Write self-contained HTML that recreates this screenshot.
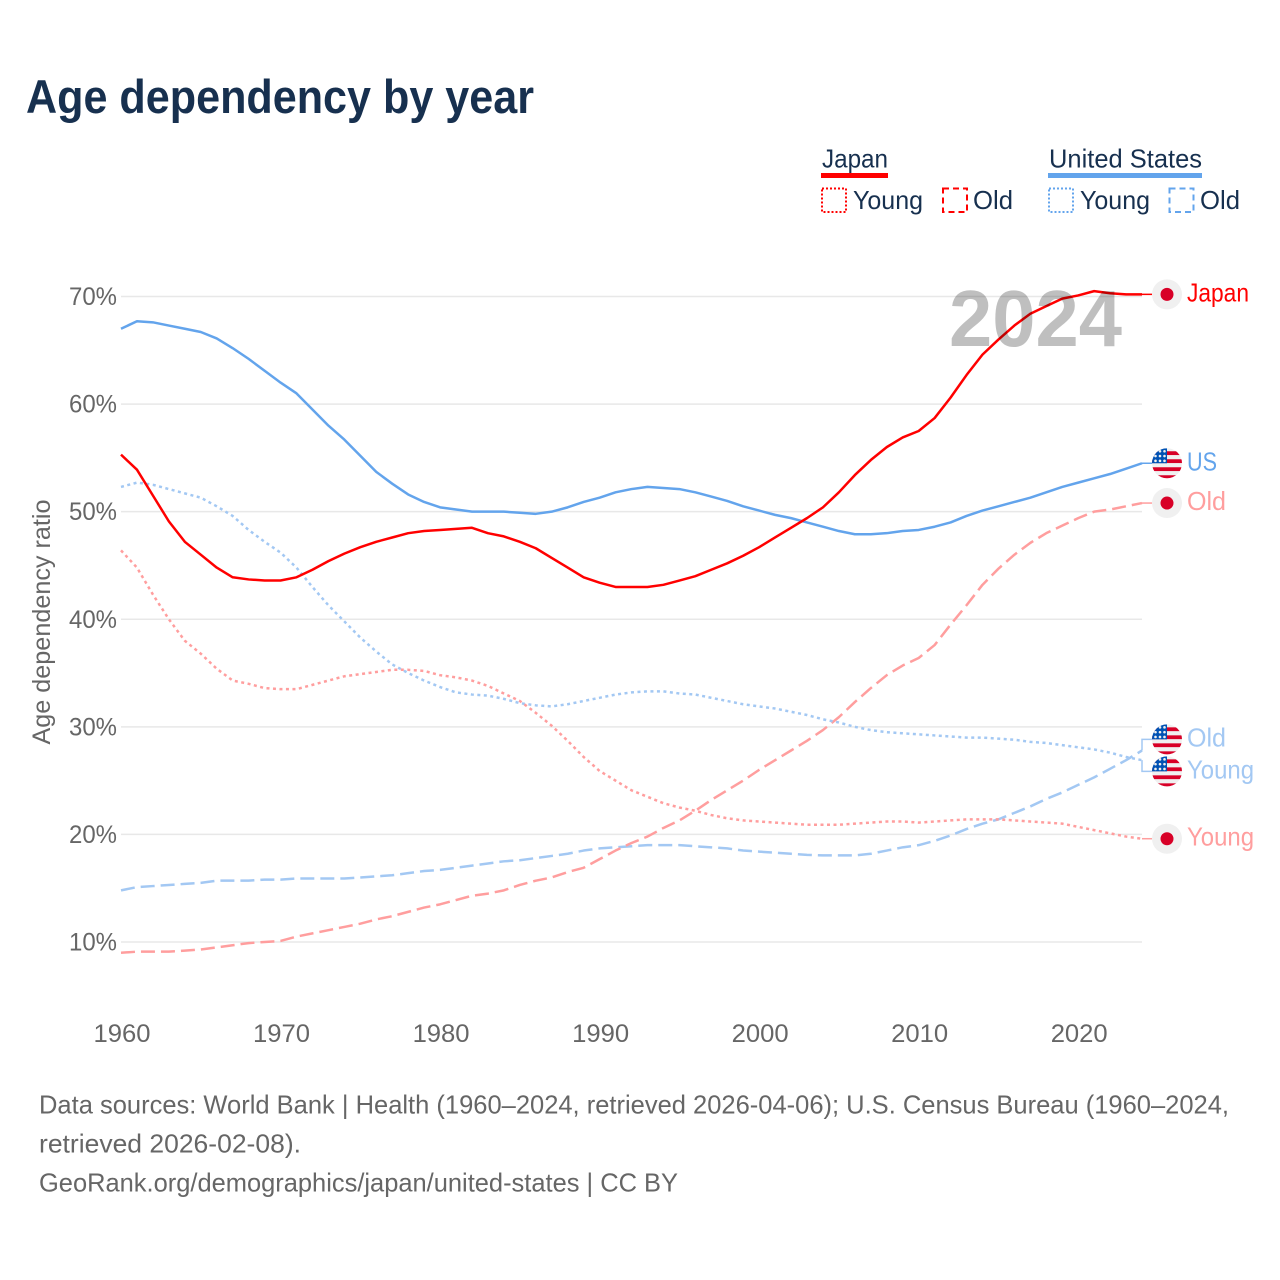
<!DOCTYPE html>
<html lang="en">
<head>
<meta charset="utf-8">
<title>Age dependency by year</title>
<style>
html,body{margin:0;padding:0;background:#fff;width:1280px;height:1280px;overflow:hidden}
svg{display:block;font-family:"Liberation Sans",sans-serif}
</style>
</head>
<body>
<svg xmlns="http://www.w3.org/2000/svg" width="1280" height="1280" viewBox="0 0 1280 1280">
  <text x="26" y="113" font-size="47" font-weight="700" fill="#17304f" textLength="508" lengthAdjust="spacingAndGlyphs">Age dependency by year</text>

  <g font-size="26" fill="#17304f">
    <text x="822" y="167.500" textLength="66" lengthAdjust="spacingAndGlyphs">Japan</text>
    <rect x="821" y="173" width="67" height="5" fill="#ff0000"/>
    <rect x="822" y="188.500" width="24" height="23.500" fill="none" stroke="#ff0000" stroke-width="2" stroke-dasharray="2 2"/>
    <text x="853" y="209" textLength="70" lengthAdjust="spacingAndGlyphs">Young</text>
    <rect x="943" y="188.500" width="24" height="23.500" fill="none" stroke="#ff0000" stroke-width="2" stroke-dasharray="6 4"/>
    <text x="973" y="209" textLength="40" lengthAdjust="spacingAndGlyphs">Old</text>

    <text x="1049" y="167.500" textLength="153" lengthAdjust="spacingAndGlyphs">United States</text>
    <rect x="1048" y="173" width="154" height="5" fill="#63a4ec"/>
    <rect x="1049" y="188.500" width="24" height="23.500" fill="none" stroke="#63a4ec" stroke-width="2" stroke-dasharray="2 2"/>
    <text x="1080" y="209" textLength="70" lengthAdjust="spacingAndGlyphs">Young</text>
    <rect x="1169.500" y="188.500" width="24" height="23.500" fill="none" stroke="#63a4ec" stroke-width="2" stroke-dasharray="6 4"/>
    <text x="1200" y="209" textLength="40" lengthAdjust="spacingAndGlyphs">Old</text>
  </g>

  <g id="grid"></g>
  <g id="yticks"></g>
  <g id="xticks"></g>
  <text transform="translate(50,622) rotate(-90)" text-anchor="middle" font-size="25" fill="#666666" textLength="245" lengthAdjust="spacingAndGlyphs">Age dependency ratio</text>

  <g id="series"></g>
  <g id="ends"></g>
  <text id="year" x="949" y="346" font-size="80" font-weight="700" fill="rgba(0,0,0,0.25)" textLength="173" lengthAdjust="spacingAndGlyphs"></text>

  <g font-size="26" fill="#666666">
    <text x="39" y="1113.500" textLength="1190" lengthAdjust="spacingAndGlyphs">Data sources: World Bank | Health (1960–2024, retrieved 2026-04-06); U.S. Census Bureau (1960–2024,</text>
    <text x="39" y="1152.500" textLength="262" lengthAdjust="spacingAndGlyphs">retrieved 2026-02-08).</text>
    <text x="39" y="1191.500" textLength="639" lengthAdjust="spacingAndGlyphs">GeoRank.org/demographics/japan/united-states | CC BY</text>
  </g>
</svg>

<script>
const years = [1960,1961,1962,1963,1964,1965,1966,1967,1968,1969,1970,1971,1972,1973,1974,1975,1976,1977,1978,1979,1980,1981,1982,1983,1984,1985,1986,1987,1988,1989,1990,1991,1992,1993,1994,1995,1996,1997,1998,1999,2000,2001,2002,2003,2004,2005,2006,2007,2008,2009,2010,2011,2012,2013,2014,2015,2016,2017,2018,2019,2020,2021,2022,2023,2024];
const japanTotal = [55.3,53.9,51.5,49.1,47.2,46.0,44.8,43.9,43.7,43.6,43.6,43.9,44.6,45.4,46.1,46.7,47.2,47.6,48.0,48.2,48.3,48.4,48.5,48.0,47.7,47.2,46.6,45.7,44.8,43.9,43.4,43.0,43.0,43.0,43.2,43.6,44.0,44.6,45.2,45.9,46.7,47.6,48.5,49.4,50.4,51.8,53.4,54.8,56.0,56.9,57.5,58.7,60.6,62.7,64.6,66.0,67.3,68.4,69.1,69.8,70.1,70.5,70.3,70.2,70.2];
const usTotal = [67.0,67.7,67.6,67.3,67.0,66.7,66.1,65.2,64.2,63.1,62.0,61.0,59.5,58.0,56.7,55.2,53.7,52.6,51.6,50.9,50.4,50.2,50.0,50.0,50.0,49.9,49.8,50.0,50.4,50.9,51.3,51.8,52.1,52.3,52.2,52.1,51.8,51.4,51.0,50.5,50.1,49.7,49.4,49.0,48.6,48.2,47.9,47.9,48.0,48.2,48.3,48.6,49.0,49.6,50.1,50.5,50.9,51.3,51.8,52.3,52.7,53.1,53.5,54.0,54.5];
const japanYoung = [46.4,44.8,42.3,40.0,38.0,36.8,35.4,34.3,34.0,33.6,33.5,33.5,33.9,34.3,34.7,34.9,35.1,35.3,35.3,35.2,34.8,34.6,34.3,33.8,33.1,32.4,31.3,30.1,28.7,27.2,25.9,25.0,24.1,23.5,22.9,22.5,22.2,21.8,21.5,21.3,21.2,21.1,21.0,20.9,20.9,20.9,21.0,21.1,21.2,21.2,21.1,21.2,21.3,21.4,21.4,21.4,21.3,21.2,21.1,21.0,20.7,20.4,20.1,19.8,19.6];
const japanOld = [9.0,9.1,9.1,9.1,9.2,9.3,9.5,9.7,9.9,10.0,10.1,10.5,10.8,11.1,11.4,11.7,12.1,12.4,12.8,13.2,13.5,13.9,14.3,14.5,14.8,15.3,15.7,16.0,16.5,16.9,17.7,18.5,19.2,19.8,20.6,21.3,22.2,23.2,24.1,25.0,26.0,26.9,27.8,28.7,29.7,30.9,32.3,33.6,34.8,35.7,36.4,37.6,39.5,41.3,43.2,44.7,46.0,47.1,48.0,48.7,49.4,50.0,50.2,50.5,50.8];
const usYoung = [52.3,52.7,52.5,52.1,51.7,51.3,50.5,49.6,48.3,47.2,46.2,44.8,43.0,41.3,39.8,38.3,37.0,35.8,35.0,34.3,33.7,33.2,33.0,32.9,32.6,32.2,32.0,31.9,32.1,32.4,32.7,33.0,33.2,33.3,33.3,33.1,33.0,32.7,32.4,32.1,31.9,31.7,31.4,31.1,30.7,30.4,30.0,29.7,29.5,29.4,29.3,29.2,29.1,29.0,29.0,28.9,28.8,28.6,28.5,28.3,28.1,27.9,27.6,27.2,26.9];
const usOld = [14.8,15.1,15.2,15.3,15.4,15.5,15.7,15.7,15.7,15.8,15.8,15.9,15.9,15.9,15.9,16.0,16.1,16.2,16.4,16.6,16.7,16.9,17.1,17.3,17.5,17.6,17.8,18.0,18.2,18.5,18.7,18.8,18.9,19.0,19.0,19.0,18.9,18.8,18.7,18.5,18.4,18.3,18.2,18.1,18.05,18.05,18.05,18.2,18.5,18.8,19.0,19.4,19.9,20.5,21.0,21.4,22.0,22.6,23.3,23.9,24.6,25.3,26.1,26.9,27.8];
const yTickValues = [10,20,30,40,50,60,70];
const xTickValues = [1960,1970,1980,1990,2000,2010,2020];

const SVGNS = 'http://www.w3.org/2000/svg';
const X0 = 121, X1 = 1142, YEAR0 = 1960, YEAR1 = 2024;
const Y10 = 942, Y70 = 296.5;
function xScale(year){ return X0 + (year - YEAR0) * (X1 - X0) / (YEAR1 - YEAR0); }
function yScale(v){ return Y10 + (v - 10) * (Y70 - Y10) / 60; }
function make(tag, attrs, parent){
  const el = document.createElementNS(SVGNS, tag);
  for (const k in attrs) el.setAttribute(k, attrs[k]);
  parent.appendChild(el);
  return el;
}

const gridG = document.getElementById('grid');
const yTickG = document.getElementById('yticks');
const xTickG = document.getElementById('xticks');
yTickValues.forEach(function(v){
  const line = make('line', {x1:X0, x2:X1, y1:yScale(v), y2:yScale(v), stroke:'#e8e8e8', 'stroke-width':1.5}, gridG);
  
  
  const t = make('text', {x:117, y:yScale(v)+8.500, 'text-anchor':'end', 'font-size':25, fill:'#666666', textLength:48, lengthAdjust:'spacingAndGlyphs'}, yTickG);
  
  
  t.textContent = v + '%';
});
xTickValues.forEach(function(v){
  const t = make('text', {x:xScale(v)+1, y:1042, 'text-anchor':'middle', 'font-size':25, fill:'#666666', textLength:57, lengthAdjust:'spacingAndGlyphs'}, xTickG);
  
  
  t.textContent = v;
});

const seriesG = document.getElementById('series');
function drawLine(values, color, width, dash, name){
  const d = values.map(function(v, i){
    return (i ? 'L' : 'M') + xScale(years[i]).toFixed(2) + ' ' + yScale(v).toFixed(2);
  }).join(' ');
  const p = make('path', {d:d, fill:'none', stroke:color, 'stroke-width':width, 'stroke-linejoin':'round'}, seriesG);
  if (dash) p.setAttribute('stroke-dasharray', dash);
  
  
}
const RED = '#ff0000', BLUE = '#63a4ec', PINK = '#ff9e9e', SKY = '#a3c8f3';
drawLine(usOld, SKY, 2.5, '14 6', 'line-us-old');
drawLine(japanOld, PINK, 2.5, '14 6', 'line-japan-old');
drawLine(usYoung, SKY, 2.5, '3 3.500', 'line-us-young');
drawLine(japanYoung, PINK, 2.5, '3 3.500', 'line-japan-young');
drawLine(usTotal, BLUE, 2.5, null, 'line-us-total');
drawLine(japanTotal, RED, 2.5, null, 'line-japan-total');

document.getElementById('year').textContent = years[years.length - 1];

/* end-of-line labels, dodged when they would collide */
const endG = document.getElementById('ends');
const endLabels = [
  {label:'Japan', values:japanTotal, color:RED, flag:'jp', w:62},
  {label:'US', values:usTotal, color:BLUE, flag:'us', w:30},
  {label:'Old', values:japanOld, color:PINK, flag:'jp', w:39},
  {label:'Old', values:usOld, color:SKY, flag:'us', w:39},
  {label:'Young', values:usYoung, color:SKY, flag:'us', w:67},
  {label:'Young', values:japanYoung, color:PINK, flag:'jp', w:67}
];
endLabels.forEach(function(e){
  e.lineY = yScale(e.values[e.values.length - 1]);
  e.y = e.lineY;
});
endLabels.sort(function(a, b){ return a.y - b.y; });
for (let i = 1; i < endLabels.length; i++){
  const a = endLabels[i-1], b = endLabels[i];
  if (b.y - a.y < 32){
    const mid = (a.y + b.y) / 2;
    a.y = mid - 16;
    b.y = mid + 16;
  }
}
function drawUsFlag(cx, cy){
  const id = 'clip' + Math.round(cy);
  const cp = make('clipPath', {id:id}, endG);
  make('circle', {cx:cx, cy:cy, r:15}, cp);
  const g = make('g', {'clip-path':'url(#' + id + ')'}, endG);
  
  
  make('rect', {x:cx-15, y:cy-15, width:30, height:30, fill:'#f0f0f0'}, g);
  for (let s = 0; s < 4; s++){
    make('rect', {x:cx-15, y:cy-12+s*8, width:30, height:3.800, fill:'#d80027'}, g);
  }
  make('rect', {x:cx-15, y:cy-15, width:15, height:15, fill:'#0052b4'}, g);
  for (let r = 0; r < 3; r++){
    for (let c = 0; c < 3; c++){
      make('circle', {cx:cx-11.500+c*4.500, cy:cy-12+r*4.800, r:1.300, fill:'#f0f0f0'}, g);
    }
  }
}
function drawJpFlag(cx, cy){
  const g = make('g', {}, endG);
  
  
  make('circle', {cx:cx, cy:cy, r:15, fill:'#f0f0f0'}, g);
  make('circle', {cx:cx, cy:cy, r:6.500, fill:'#d80027'}, g);
}
endLabels.forEach(function(e){
  const leaderD = Math.abs(e.y - e.lineY) > 1
    ? 'M' + X1 + ' ' + e.lineY + ' L' + X1 + ' ' + e.y + ' L1152 ' + e.y
    : 'M' + X1 + ' ' + e.lineY + ' L1152 ' + e.y;
  const leader = make('path', {d:leaderD, fill:'none', stroke:e.color, 'stroke-width':1.5}, endG);
  
  
  if (e.flag === 'us') drawUsFlag(1167, e.y); else drawJpFlag(1167, e.y);
  const t = make('text', {x:1187, y:e.y+7, 'font-size':26, fill:e.color, textLength:e.w, lengthAdjust:'spacingAndGlyphs'}, endG);
  
  
  t.textContent = e.label;
});
</script>
</body>
</html>
